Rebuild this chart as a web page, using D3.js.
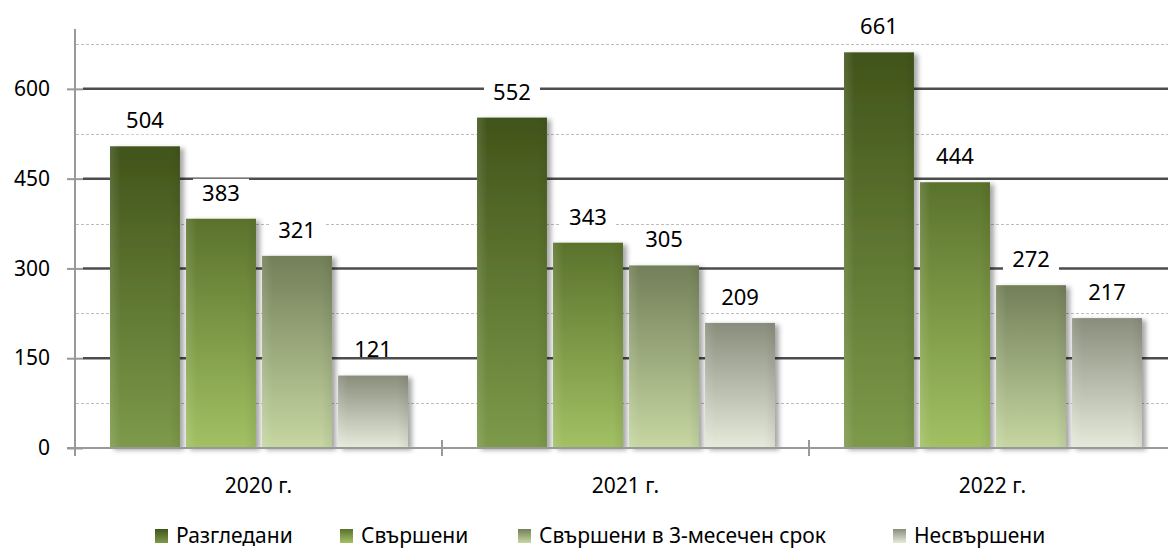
<!DOCTYPE html>
<html>
<head>
  <meta charset="utf-8">
  <title>Разгледани и свършени дела</title>
  <style>
    body { margin: 0; background: #ffffff; }
    svg { display: block; font-family: "Noto Sans", "Open Sans", sans-serif; }
  </style>
</head>
<body>
  <div id="chart"></div>

  <script src="https://d3js.org/d3.v7.min.js"></script>
  <script>
    // Chart data
    var years = ["2020 г.", "2021 г.", "2022 г."];
    var seriesNames = ["Разгледани", "Свършени", "Свършени в 3-месечен срок", "Несвършени"];
    var razgledani = [504, 552, 661];
    var svarsheni = [383, 343, 444];
    var svarsheni3m = [321, 305, 272];
    var nesvarsheni = [121, 209, 217];
    var majorTicks = [0, 150, 300, 450, 600];
    var minorTicks = [75, 225, 375, 525, 675];

    var seriesValues = [razgledani, svarsheni, svarsheni3m, nesvarsheni];
    // top / bottom gradient colours per series
    var gradTop = ["#41541a", "#5a722c", "#727f58", "#888d7c"];
    var gradBottom = ["#7d9a4a", "#a2c163", "#c6d7a2", "#e6eadb"];

    var width = 1168, height = 550;
    var plotLeft = 75, plotRight = 1176, plotTop = 29, plotBottom = 448;

    var svg = d3.select("#chart")
      .append("svg")
      .attr("width", width)
      .attr("height", height);

    var defs = svg.append("defs");

    // gradients for bars
    seriesNames.forEach(function(name, i) {
      var g = defs.append("linearGradient")
        .attr("id", "grad" + i)
        .attr("x1", 0).attr("y1", 0).attr("x2", 0).attr("y2", 1);
      g.append("stop").attr("offset", "0%").attr("stop-color", gradTop[i]);
      g.append("stop").attr("offset", "100%").attr("stop-color", gradBottom[i]);
    });

    // light vertical shading over each bar
    var side = defs.append("linearGradient")
      .attr("id", "side")
      .attr("x1", 0).attr("y1", 0).attr("x2", 1).attr("y2", 0);
    side.append("stop").attr("offset", "0%").attr("stop-color", "#ffffff").attr("stop-opacity", 0.12);
    side.append("stop").attr("offset", "15%").attr("stop-color", "#ffffff").attr("stop-opacity", 0);
    side.append("stop").attr("offset", "85%").attr("stop-color", "#000000").attr("stop-opacity", 0);
    side.append("stop").attr("offset", "100%").attr("stop-color", "#000000").attr("stop-opacity", 0.06);

    var shadow = defs.append("filter")
      .attr("id", "shadow")
      .attr("x", "-10%").attr("y", "-10%").attr("width", "130%").attr("height", "120%");
    shadow.append("feDropShadow")
      .attr("dx", 4).attr("dy", 2)
      .attr("stdDeviation", 2.5)
      .attr("flood-color", "#000000")
      .attr("flood-opacity", 0.35);

    // scales
    var y = d3.scaleLinear().domain([0, 700]).range([plotBottom, plotTop]);
    var x0 = d3.scaleBand().domain(years).range([plotLeft, plotRight]).paddingInner(0).paddingOuter(0);
    var x1 = d3.scaleBand().domain(d3.range(seriesNames.length))
      .range([35, x0.bandwidth() - 34]).paddingInner(0.08);

    // minor dashed gridlines
    svg.append("g").selectAll("line")
      .data(minorTicks)
      .join("line")
      .attr("x1", plotLeft + 1).attr("x2", width)
      .attr("y1", function(d) { return Math.round(y(d)) + 0.5; })
      .attr("y2", function(d) { return Math.round(y(d)) + 0.5; })
      .attr("stroke", "#bdbdbd")
      .attr("stroke-width", 1)
      .attr("stroke-dasharray", "3,2");

    // major gridlines
    svg.append("g").selectAll("line")
      .data(majorTicks.filter(function(d) { return d > 0; }))
      .join("line")
      .attr("x1", plotLeft + 8).attr("x2", width)
      .attr("y1", function(d) { return y(d); })
      .attr("y2", function(d) { return y(d); })
      .attr("stroke", "#4d4d4d")
      .attr("stroke-width", 2.5);

    // y axis
    var yAxis = d3.axisLeft(y)
      .tickValues(majorTicks)
      .tickSize(8)
      .tickPadding(17)
      .tickFormat(d3.format("d"));

    var yg = svg.append("g")
      .attr("transform", "translate(" + plotLeft + ",0)")
      .call(yAxis);
    yg.select(".domain").remove();
    yg.selectAll(".tick line").attr("stroke", "#999999").attr("stroke-width", 2)
      .attr("x1", 8).attr("x2", -8);
    yg.selectAll(".tick text")
      .attr("fill", "#000000")
      .style("font-size", "21px")
      .style("font-family", "'Noto Sans', sans-serif");
    svg.append("line")
      .attr("x1", plotLeft).attr("x2", plotLeft)
      .attr("y1", plotTop).attr("y2", plotBottom + 8)
      .attr("stroke", "#999999").attr("stroke-width", 2);

    // bars
    var groups = svg.append("g").selectAll("g")
      .data(years)
      .join("g")
      .attr("transform", function(d) { return "translate(" + x0(d) + ",0)"; });

    function barsData(gi) {
      return seriesValues.map(function(vals, si) { return { s: si, v: vals[gi] }; });
    }

    groups.each(function(yr, gi) {
      var g = d3.select(this);
      var data = barsData(gi);
      g.selectAll("rect.bar")
        .data(data)
        .join("rect")
        .attr("class", "bar")
        .attr("x", function(d) { return x1(d.s); })
        .attr("y", function(d) { return y(d.v); })
        .attr("width", x1.bandwidth())
        .attr("height", function(d) { return plotBottom - y(d.v); })
        .attr("fill", function(d) { return "url(#grad" + d.s + ")"; })
        .attr("filter", "url(#shadow)");
      g.selectAll("rect.side")
        .data(data)
        .join("rect")
        .attr("class", "side")
        .attr("x", function(d) { return x1(d.s); })
        .attr("y", function(d) { return y(d.v); })
        .attr("width", x1.bandwidth())
        .attr("height", function(d) { return plotBottom - y(d.v); })
        .attr("fill", "url(#side)");
    });

    // x axis
    svg.append("line")
      .attr("x1", plotLeft - 8).attr("x2", width)
      .attr("y1", plotBottom).attr("y2", plotBottom)
      .attr("stroke", "#999999").attr("stroke-width", 2);
    var boundaries = years.map(function(d) { return x0(d); }).concat([x0(years[years.length - 1]) + x0.bandwidth()]);
    svg.append("g").selectAll("line")
      .data(boundaries)
      .join("line")
      .attr("x1", function(d) { return d; }).attr("x2", function(d) { return d; })
      .attr("y1", plotBottom - 8).attr("y2", plotBottom + 8)
      .attr("stroke", "#999999").attr("stroke-width", 2);
    svg.append("g").selectAll("text")
      .data(years)
      .join("text")
      .attr("x", function(d) { return x0(d) + x0.bandwidth() / 2; })
      .attr("y", 493)
      .attr("text-anchor", "middle")
      .style("font-size", "21px")
      .attr("fill", "#000000")
      .text(function(d) { return d; });

    // value labels with white boxes
    groups.each(function(yr, gi) {
      var g = d3.select(this);
      var data = barsData(gi);
      var lab = g.selectAll("g.lab")
        .data(data)
        .join("g")
        .attr("class", "lab")
        .attr("transform", function(d) {
          return "translate(" + (x1(d.s) + x1.bandwidth() / 2) + "," + (y(d.v) - 26) + ")";
        });
      lab.filter(function(d) { return d.s < 3; })
        .append("rect")
        .attr("x", -28).attr("y", -14)
        .attr("width", 56).attr("height", 28)
        .attr("fill", "#ffffff");
      lab.append("text")
        .attr("text-anchor", "middle")
        .attr("dy", "0.36em")
        .style("font-size", "22px")
        .attr("fill", "#000000")
        .text(function(d) { return d.v; });
    });

    // legend
    var legendX = [155, 340, 518, 893];
    var legend = svg.append("g").selectAll("g")
      .data(seriesNames)
      .join("g")
      .attr("transform", function(d, i) { return "translate(" + legendX[i] + ",529)"; });
    legend.append("rect")
      .attr("width", 13).attr("height", 14)
      .attr("fill", function(d, i) { return "url(#grad" + i + ")"; });
    legend.append("text")
      .attr("x", 21).attr("y", 14)
      .style("font-size", "21px")
      .attr("fill", "#000000")
      .text(function(d) { return d; });
  </script>
</body>
</html>
